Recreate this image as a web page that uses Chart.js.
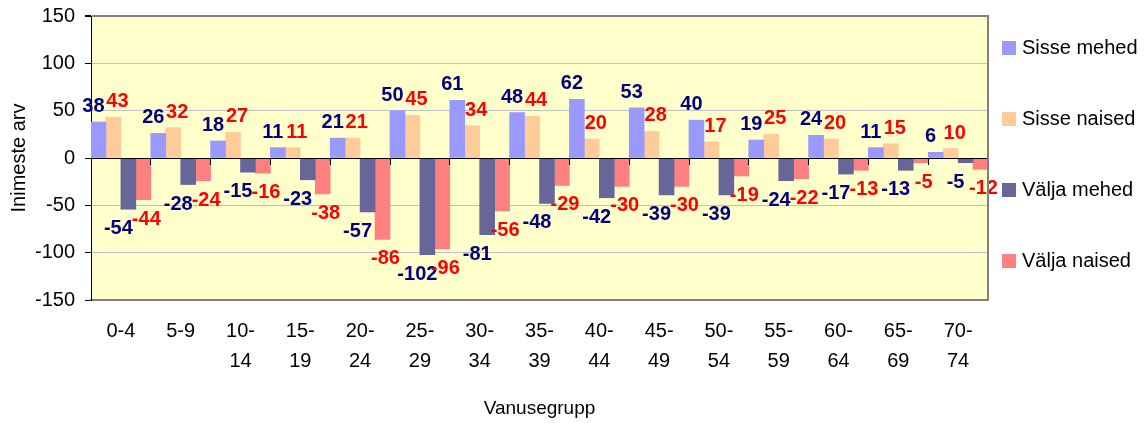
<!DOCTYPE html>
<html>
<head>
<meta charset="utf-8">
<script src="https://cdn.jsdelivr.net/npm/chart.js@4/dist/chart.umd.min.js"></script>
<style>
    html, body { margin: 0; padding: 0; background: #ffffff; }
    #wrap { position: relative; width: 1146px; height: 423px; }
</style>
</head>
<body>
<div id="wrap"><canvas id="chart"></canvas></div>
<script>
(function () {
    // age groups, split on two lines like the original axis
    var ageGroups = [['0-4'], ['5-9'], ['10-', '14'], ['15-', '19'], ['20-', '24'], ['25-', '29'],
        ['30-', '34'], ['35-', '39'], ['40-', '44'], ['45-', '49'], ['50-', '54'], ['55-', '59'],
        ['60-', '64'], ['65-', '69'], ['70-', '74']];

    var sisseMehed = [38, 26, 18, 11, 21, 50, 61, 48, 62, 53, 40, 19, 24, 11, 6];
    var sisseNaised = [43, 32, 27, 11, 21, 45, 34, 44, 20, 28, 17, 25, 20, 15, 10];
    var valjaMehed = [-54, -28, -15, -23, -57, -102, -81, -48, -42, -39, -39, -24, -17, -13, -5];
    var valjaNaised = [-44, -24, -16, -38, -86, -96, -56, -29, -30, -30, -19, -22, -13, -5, -12];

    var yTicks = [-150, -100, -50, 0, 50, 100, 150];

    var fontFamily = "'Liberation Sans', Arial, sans-serif";
    Chart.defaults.font.family = fontFamily;
    Chart.defaults.color = '#000000';

    // yellow plot area and the grey right edge
    var plotFrame = {
        id: 'plotFrame',
        beforeDraw: function (chart) {
            var a = chart.chartArea;
            var ctx = chart.ctx;
            ctx.save();
            ctx.fillStyle = '#FFFFCC';
            ctx.fillRect(a.left, a.top, a.right - a.left, a.bottom - a.top);
            ctx.restore();
        },
        afterDraw: function (chart) {
            var a = chart.chartArea;
            var ctx = chart.ctx;
            ctx.save();
            ctx.strokeStyle = '#808080';
            ctx.lineWidth = 2;
            ctx.beginPath();
            ctx.moveTo(a.right, a.top - 1);
            ctx.lineTo(a.right, a.bottom + 1);
            ctx.stroke();
            ctx.restore();
        }
    };

    // value labels above / below every bar
    var valueLabels = {
        id: 'valueLabels',
        afterDatasetsDraw: function (chart) {
            var ctx = chart.ctx;
            ctx.save();
            ctx.font = 'bold 20px ' + fontFamily;
            ctx.textAlign = 'center';
            ctx.textBaseline = 'alphabetic';
            chart.data.datasets.forEach(function (ds, di) {
                var meta = chart.getDatasetMeta(di);
                if (meta.hidden) return;
                ctx.fillStyle = ds.labelColor;
                meta.data.forEach(function (bar, i) {
                    var v = ds.data[i];
                    var x = bar.x + ds.labelShift;
                    var y = v >= 0 ? bar.y - 10 : bar.y + 25;
                    ctx.fillText(String(v), x, y);
                });
            });
            ctx.restore();
        }
    };

    // legend at the right, spaced out like the original
    var sideLegend = {
        id: 'sideLegend',
        afterDraw: function (chart) {
            var ctx = chart.ctx;
            ctx.save();
            ctx.font = '20px ' + fontFamily;
            ctx.textBaseline = 'middle';
            ctx.textAlign = 'left';
            chart.data.datasets.forEach(function (ds, di) {
                var cy = 48 + di * 71;
                ctx.fillStyle = ds.backgroundColor;
                ctx.fillRect(1002, cy - 7, 14, 14);
                ctx.fillStyle = '#000000';
                ctx.fillText(ds.label, 1022, cy);
            });
            ctx.restore();
        }
    };

    var chart = new Chart(document.getElementById('chart'), {
        type: 'bar',
        data: {
            labels: ageGroups,
            datasets: [{
                label: 'Sisse mehed',
                data: sisseMehed,
                backgroundColor: '#9999FF',
                labelColor: '#000080',
                labelShift: -5
            }, {
                label: 'Sisse naised',
                data: sisseNaised,
                backgroundColor: '#FFCC99',
                labelColor: '#FF0000',
                labelShift: 4
            }, {
                label: 'Välja mehed',
                data: valjaMehed,
                backgroundColor: '#666699',
                labelColor: '#000080',
                labelShift: -10
            }, {
                label: 'Välja naised',
                data: valjaNaised,
                backgroundColor: '#FF8080',
                labelColor: '#FF0000',
                labelShift: 3
            }]
        },
        options: {
            responsive: true,
            maintainAspectRatio: false,
            animation: false,
            layout: {
                padding: { left: 0, top: 16, right: 158, bottom: 0 }
            },
            datasets: {
                bar: {
                    barPercentage: 1,
                    categoryPercentage: 1,
                    borderWidth: 0
                }
            },
            plugins: {
                legend: { display: false },
                tooltip: { enabled: false }
            },
            scales: {
                x: {
                    type: 'category',
                    offset: true,
                    grid: { display: false, drawTicks: false },
                    border: { color: '#808080', width: 2 },
                    ticks: {
                        autoSkip: false,
                        maxRotation: 0,
                        padding: 16,
                        color: '#000000',
                        font: { size: 20, lineHeight: 1.5 }
                    },
                    title: {
                        display: true,
                        text: 'Vanusegrupp',
                        color: '#000000',
                        font: { size: 19 },
                        padding: { top: 0, bottom: 3 }
                    },
                    afterFit: function (scale) {
                        scale.height = 123;
                        scale.paddingLeft = 0;
                        scale.paddingRight = 0;
                    }
                },
                // zero line with the category tick marks
                x0: {
                    type: 'category',
                    axis: 'x',
                    labels: ageGroups,
                    position: { y: 0 },
                    offset: true,
                    grid: {
                        offset: true,
                        drawOnChartArea: false,
                        tickLength: 6,
                        color: '#000000',
                        z: 1
                    },
                    ticks: { display: false },
                    border: { color: '#000000', width: 1, z: 1 },
                    afterFit: function (scale) {
                        scale.paddingLeft = 0;
                        scale.paddingRight = 0;
                    }
                },
                y: {
                    min: -150,
                    max: 150,
                    afterBuildTicks: function (scale) {
                        scale.ticks = yTicks.map(function (v) { return { value: v }; });
                    },
                    grid: {
                        tickLength: 6,
                        tickColor: '#000000',
                        color: function (ctx) {
                            if (ctx.tick.value === 0) return 'rgba(0,0,0,0)';
                            if (ctx.tick.value === 150) return '#808080';
                            return '#C0C0C0';
                        },
                        lineWidth: function (ctx) {
                            return ctx.tick.value === 150 ? 2 : 1;
                        }
                    },
                    border: { color: '#000000', width: 1 },
                    ticks: {
                        padding: 10,
                        color: '#000000',
                        font: { size: 20 }
                    },
                    title: {
                        display: true,
                        text: 'Inimeste arv',
                        color: '#000000',
                        font: { size: 20 },
                        padding: { top: 7, bottom: 0 }
                    },
                    afterFit: function (scale) {
                        scale.width = 91;
                        scale.paddingTop = 0;
                        scale.paddingBottom = 0;
                    }
                }
            }
        },
        plugins: [plotFrame, valueLabels, sideLegend]
    });
})();
</script>
</body>
</html>
